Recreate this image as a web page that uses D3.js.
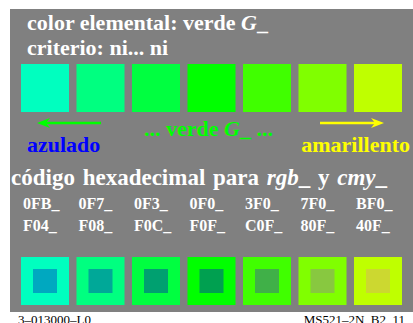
<!DOCTYPE html>
<html><head><meta charset="utf-8">
<script src="https://cdn.jsdelivr.net/npm/d3@7"></script>
<style>html,body{margin:0;padding:0;background:#fff;overflow:hidden}svg{display:block}</style>
</head><body>
<script>
const rgbCodes = ["0FB_","0F7_","0F3_","0F0_","3F0_","7F0_","BF0_"];
const cmyCodes = ["F04_","F08_","F0C_","F0F_","C0F_","80F_","40F_"];
const outerColors = ["#00ffbf","#00ff80","#00ff40","#00ff00","#40ff00","#80ff00","#bfff00"];
const innerColors = ["#00a8c0","#00a898","#00a070","#00a050","#40b048","#88c840","#ccd830"];
const titleLines = ["color elemental: verde ", "criterio: ni... ni"];

const W = 413, H = 323;
const svg = d3.select("body").append("svg").attr("width", W).attr("height", H);
const serif = "'Liberation Serif','Times New Roman',serif";

svg.append("rect").attr("x",10).attr("y",9).attr("width",403).attr("height",303).attr("fill","#808080");

const x = d3.scaleBand().domain(d3.range(rgbCodes.length)).range([21,402]).paddingInner(0.135).paddingOuter(0);
const bw = x.bandwidth();

// title
const t1 = svg.append("text").attr("x",27).attr("y",30).attr("font-family",serif).attr("font-weight","bold")
  .attr("font-size",22).attr("fill","#fff");
t1.append("tspan").text(titleLines[0]);
t1.append("tspan").attr("font-style","italic").text("G");
t1.append("tspan").text("_");
svg.append("text").attr("x",27).attr("y",55).attr("font-family",serif).attr("font-weight","bold")
  .attr("font-size",22).attr("fill","#fff").text(titleLines[1]);

// top squares
svg.selectAll("rect.top").data(outerColors).join("rect").attr("class","top")
  .attr("x",(d,i)=>x(i)).attr("y",64).attr("width",bw).attr("height",bw).attr("fill",d=>d);

// arrows
function arrow(x1,x2,y,color){
  svg.append("line").attr("x1",x1).attr("x2",x2-Math.sign(x2-x1)*6).attr("y1",y).attr("y2",y).attr("stroke",color).attr("stroke-width",2.5);
  const dir = Math.sign(x2-x1);
  svg.append("path").attr("d",`M${x2},${y} L${x2-dir*13},${y-5} L${x2-dir*9},${y} L${x2-dir*13},${y+5} Z`).attr("fill",color);
}
arrow(101,37,123,"#00ff00");
arrow(320,384,123,"#ffff00");

const mid = svg.append("text").attr("x",208.5).attr("y",136).attr("text-anchor","middle").attr("font-family",serif)
  .attr("font-weight","bold").attr("font-size",22).attr("fill","#00ff00");
mid.append("tspan").text("... verde ");
mid.append("tspan").attr("font-style","italic").text("G");
mid.append("tspan").text("_ ...");

svg.append("text").attr("x",27).attr("y",152).attr("font-family",serif).attr("font-weight","bold")
  .attr("font-size",22).attr("fill","#0000ff").text("azulado");
svg.append("text").attr("x",410).attr("y",152).attr("text-anchor","end").attr("font-family",serif).attr("font-weight","bold")
  .attr("font-size",22).attr("fill","#ffff00").text("amarillento");

const hx = svg.append("text").attr("x",11).attr("y",185).attr("font-family",serif).attr("font-weight","bold")
  .attr("font-size",23).attr("fill","#fff").attr("word-spacing",2).attr("xml:space","preserve");
hx.append("tspan").text("código hexadecimal para ");
hx.append("tspan").attr("font-style","italic").text("rgb");
hx.append("tspan").text("_ y ");
hx.append("tspan").attr("font-style","italic").text("cmy");
hx.append("tspan").text("_");

svg.selectAll("text.rgb").data(rgbCodes).join("text").attr("class","rgb")
  .attr("x",(d,i)=>x(i)+2).attr("y",209).attr("font-family",serif).attr("font-weight","bold")
  .attr("font-size",16).attr("fill","#fff").text(d=>d);
svg.selectAll("text.cmy").data(cmyCodes).join("text").attr("class","cmy")
  .attr("x",(d,i)=>x(i)+2).attr("y",231).attr("font-family",serif).attr("font-weight","bold")
  .attr("font-size",16).attr("fill","#fff").text(d=>d);

// bottom squares
svg.selectAll("rect.bo").data(outerColors).join("rect").attr("class","bo")
  .attr("x",(d,i)=>x(i)).attr("y",257).attr("width",bw).attr("height",bw).attr("fill",d=>d);
svg.selectAll("rect.bi").data(innerColors).join("rect").attr("class","bi")
  .attr("x",(d,i)=>x(i)+bw/4).attr("y",257+bw/4).attr("width",bw/2).attr("height",bw/2).attr("fill",d=>d);

svg.append("text").attr("x",18).attr("y",324).attr("font-family",serif).attr("font-size",13).attr("fill","#000").text("3–013000–L0");
svg.append("text").attr("x",405).attr("y",324).attr("text-anchor","end").attr("font-family",serif).attr("font-size",13).attr("fill","#000").text("MS521–2N_B2_11");
</script>
</body></html>
